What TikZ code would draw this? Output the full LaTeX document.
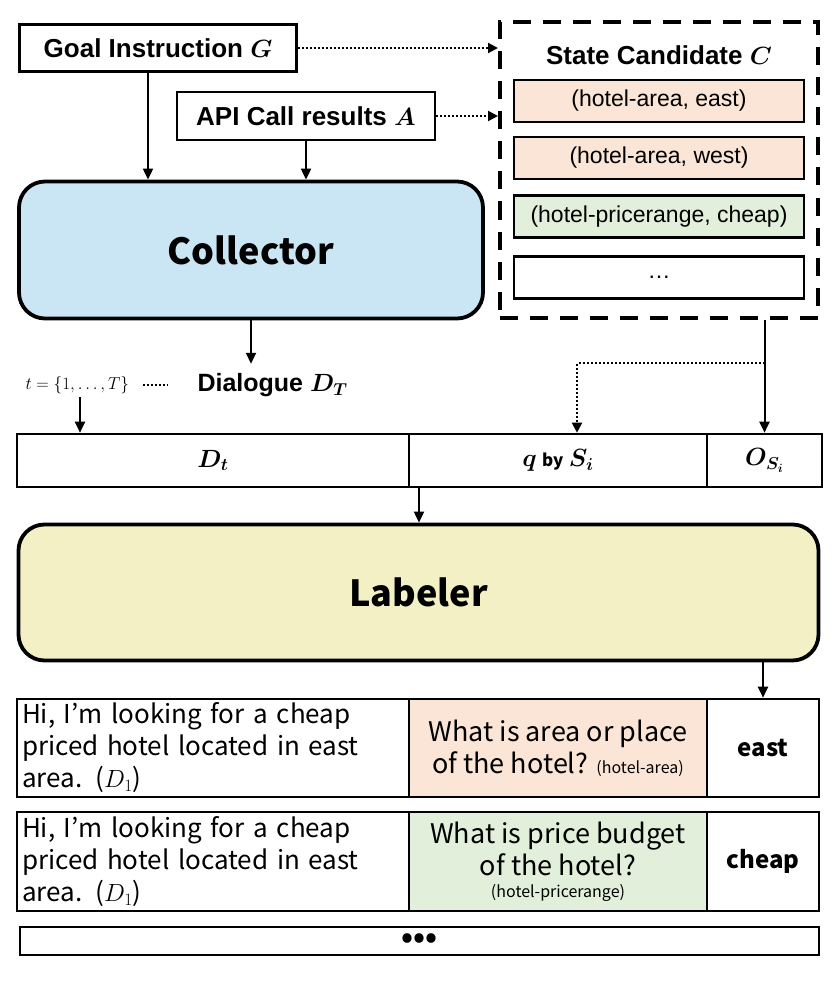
\documentclass[tikz,border=0pt]{standalone}
\usepackage[no-math]{fontspec}
\usepackage{amsmath,bm}
\setmainfont{Noto Sans CJK KR}
\newfontfamily\arialf{Liberation Sans}
\usetikzlibrary{positioning,calc,arrows.meta}

\definecolor{peach}{HTML}{FBE5D6}
\definecolor{mint}{HTML}{E2EFDA}
\definecolor{skyfill}{HTML}{CAE6F4}
\definecolor{strawfill}{HTML}{F2F0C4}

\newcommand{\exfont}{\fontsize{26}{32}\selectfont}
\newcommand{\tagfont}{\fontsize{16}{18}\selectfont}

\tikzset{
  inbox/.style={draw, line width=2.6pt, inner sep=0pt, font=\arialf\fontsize{26}{30}\selectfont\bfseries},
  cand/.style={draw, line width=2.4pt, minimum width=290, minimum height=42, inner sep=0pt, font=\arialf\fontsize{23}{26}\selectfont},
  module/.style={draw, line width=3.8pt, rounded corners=26pt, font=\fontsize{36}{40}\selectfont\bfseries},
  cell/.style={draw, line width=2.6pt, inner sep=0pt},
  arr/.style={line width=2pt, -{Triangle[length=11pt,width=10pt]}},
  dotarr/.style={line width=2pt, dash pattern=on 2pt off 2pt, -{Triangle[length=10pt,width=10pt]}},
}

\begin{document}
\begin{tikzpicture}[x=1pt,y=-1pt]
    \useasboundingbox (0,0) rectangle (837,987);

    % inputs
    \node [inbox, minimum width=277, minimum height=47] (goal) at (158,48) {Goal Instruction $\bm{G}$};
    \node [inbox, minimum width=258, minimum height=48] (api) at (306,116) {API Call results $\bm{A}$};

    % state candidates
    \node [draw, line width=4pt, dash pattern=on 18pt off 12pt, minimum width=318, minimum height=295] (cand) at (659,170) {};
    \node [font=\arialf\fontsize{26}{30}\selectfont\bfseries] (candtitle) at (659,55) {State Candidate $\bm{C}$};
    \node [cand, fill=peach] (c1) at (659,101) {(hotel-area, east)};
    \node [cand, fill=peach] (c2) at (659,158) {(hotel-area, west)};
    \node [cand, fill=mint] (c3) at (659,216.5) {(hotel-pricerange, cheap)};
    \node [cand] (c4) at (659,277.5) {…};

    % collector
    \node [module, fill=skyfill, minimum width=464, minimum height=137] (collector) at (251,250) {Collector};

    % dialogue
    \node [font=\arialf\fontsize{25}{28}\selectfont\bfseries, anchor=west] (dlg) at (194,385) {Dialogue $\bm{D_T}$};
    \node [font=\fontsize{17}{20}\selectfont, anchor=west] (tlab) at (22,385) {$t=\{1,\ldots,T\}$};

    % state row
    \node [cell, minimum width=392, minimum height=53, font=\fontsize{24}{28}\selectfont] (dt) at (213,460.5) {$\bm{D_t}$};
    \node [cell, minimum width=298, minimum height=53, font=\fontsize{24}{28}\selectfont] (q) at (558,460.5) {$\bm{q}$ {\fontsize{17}{20}\selectfont\bfseries by} $\bm{S_i}$};
    \node [cell, minimum width=115, minimum height=53, font=\fontsize{24}{28}\selectfont] (o) at (764.5,460.5) {$\bm{O_{S_i}}$};

    % labeler
    \node [module, fill=strawfill, minimum width=800, minimum height=136] (labeler) at (418.5,592.5) {Labeler};

    % example 1
    \node [cell, text width=382, inner xsep=5pt, align=left, minimum height=98, font=\exfont] (d1) at (213,748) {Hi, I’m looking for a cheap\\priced hotel located in east\\area. ($D_1$)};
    \node [cell, fill=peach, minimum width=298, minimum height=98, align=center, font=\fontsize{27}{32}\selectfont] (q1) at (558,748) {What is area or place\\of the hotel? {\tagfont (hotel-area)}};
    \node [cell, minimum width=112, minimum height=98, font=\fontsize{24}{28}\selectfont\bfseries] (o1) at (763,748) {east};

    % example 2
    \node [cell, text width=382, inner xsep=5pt, align=left, minimum height=99, font=\exfont] (d2) at (213,861.5) {Hi, I’m looking for a cheap\\priced hotel located in east\\area. ($D_1$)};
    \node [cell, fill=mint, minimum width=298, minimum height=99, align=center, font=\fontsize{27}{32}\selectfont] (q2) at (558,861.5) {What is price budget\\of the hotel?\\[-10pt]{\tagfont (hotel-pricerange)}};
    \node [cell, minimum width=112, minimum height=99, font=\fontsize{24}{28}\selectfont\bfseries] (o2) at (763,861.5) {cheap};

    % more rows
    \node [cell, minimum width=799, minimum height=28, font=\fontsize{30}{30}\selectfont\bfseries] (more) at (419.5,941) {•••};

    % connectors
    \draw [arr] (148,0 |- goal.south) -- (148,0 |- collector.north);
    \draw [arr] (api.south) -- (api.south |- collector.north);
    \draw [dotarr] (goal.east) -- (goal.east -| cand.west);
    \draw [dotarr] (api.east) -- (api.east -| cand.west);
    \draw [arr, shorten >=6pt] (collector.south) -- (collector.south |- dlg.north);
    \draw [line width=2pt, dash pattern=on 2pt off 2pt, shorten <=10pt, shorten >=26pt] (tlab.east) -- (dlg.west);
    \draw [arr] (80,0 |- tlab.south) -- (80,0 |- dt.north);
    \draw [arr] (o.north |- cand.south) -- (o.north);
    \coordinate (split) at (o.north |- 0,363);
    \draw [dotarr] (split) -| ($(q.north)+(19,0)$);
    \draw [arr] (419,0 |- dt.south) -- (419,0 |- labeler.north);
    \draw [arr] (o1.north |- labeler.south) -- (o1.north);
\end{tikzpicture}
\end{document}
